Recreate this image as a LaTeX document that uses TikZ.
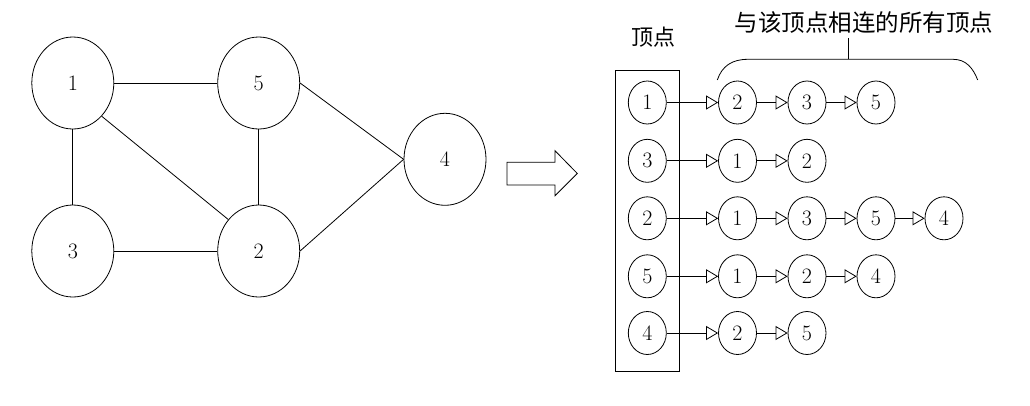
\documentclass[tikz,border=0pt]{standalone}
\usepackage{fontspec}
\newfontfamily\cjk{Noto Sans CJK SC}
\usetikzlibrary{shapes.geometric,arrows.meta}
\begin{document}
\begin{tikzpicture}[x=1pt,y=-1pt, line width=0.8pt,
  big/.style={draw, ellipse, minimum width=82pt, minimum height=92pt, inner sep=0pt, font=\fontsize{22}{26}\selectfont},
  small/.style={draw, ellipse, minimum width=38pt, minimum height=43pt, inner sep=0pt, font=\fontsize{22}{26}\selectfont},
  link/.style={-{Triangle[open,length=12pt,width=14pt]}},
  lbl/.style={inner sep=0pt},
]
\useasboundingbox (0,0) rectangle (1030,405);
% left graph
\node[big] (n1) at (72.8,83) {1};
\node[big] (n5) at (258.7,83) {5};
\node[big] (n3) at (72.8,251) {3};
\node[big] (n2) at (258.7,251) {2};
\node[big] (n4) at (445,159.3) {4};
\draw (n1) -- (n5);
\draw (n1) -- (n3);
\draw (n5) -- (n2);
\draw (n3) -- (n2);
\draw (n1.-49) -- (n2.134);
\draw (n5.east) -- (n4.west);
\draw (n2.east) -- (n4.west);
% block arrow
\draw (507,162.3) -- (555,162.3) -- (555,150.7) -- (577.3,173.5) -- (555,195.7) -- (555,185) -- (507,185) -- cycle;
% labels
\node[lbl, font=\cjk\fontsize{22}{26}\selectfont] (t1) at (653,37) {顶点};
\node[lbl, font=\cjk\fontsize{23.5}{28}\selectfont] (t2) at (864,22.5) {与该顶点相连的所有顶点};
\coordinate (bt) at (848.3,38.3);
\draw (717.3,80) .. controls (722,66) and (732,59.3) .. (748,59.3) -- (953,59.3) .. controls (966,59.3) and (973,68) .. (977.7,80);
\draw (848.3,59.3) -- (bt);
% box
\node[draw, minimum width=63.6pt, minimum height=301pt, inner sep=0pt] (box) at (647.5,221.2) {};
% row 1
\node[small] (b1) at (647.3,102.5) {1};
\node[small] (r1a) at (737.5,102.5) {2};
\node[small] (r1b) at (807,102.5) {3};
\node[small] (r1c) at (876,102.5) {5};
\draw[link] (b1) -- (r1a);
\draw[link] (r1a) -- (r1b);
\draw[link] (r1b) -- (r1c);
% row 2
\node[small] (b2) at (647.3,160.8) {3};
\node[small] (r2a) at (737.5,160.8) {1};
\node[small] (r2b) at (807,160.8) {2};
\draw[link] (b2) -- (r2a);
\draw[link] (r2a) -- (r2b);
% row 3
\node[small] (b3) at (647.3,218.3) {2};
\node[small] (r3a) at (737.5,218.3) {1};
\node[small] (r3b) at (807,218.3) {3};
\node[small] (r3c) at (876,218.3) {5};
\node[small] (r3d) at (944,218.3) {4};
\draw[link] (b3) -- (r3a);
\draw[link] (r3a) -- (r3b);
\draw[link] (r3b) -- (r3c);
\draw[link] (r3c) -- (r3d);
% row 4
\node[small] (b4) at (647.3,276.3) {5};
\node[small] (r4a) at (737.5,276.3) {1};
\node[small] (r4b) at (807,276.3) {2};
\node[small] (r4c) at (876,276.3) {4};
\draw[link] (b4) -- (r4a);
\draw[link] (r4a) -- (r4b);
\draw[link] (r4b) -- (r4c);
% row 5
\node[small] (b5) at (647.3,333) {4};
\node[small] (r5a) at (737.5,333) {2};
\node[small] (r5b) at (807,333) {5};
\draw[link] (b5) -- (r5a);
\draw[link] (r5a) -- (r5b);
\end{tikzpicture}
\end{document}
